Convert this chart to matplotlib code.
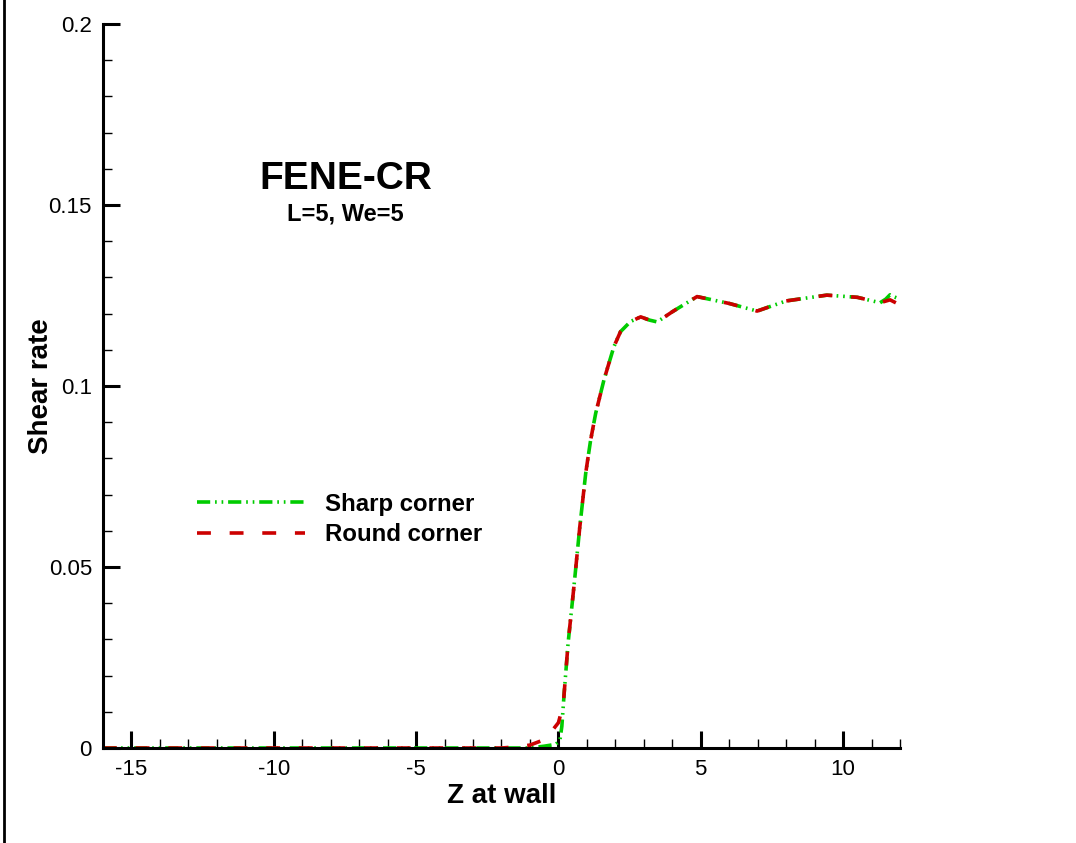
import matplotlib.pyplot as plt
from matplotlib.lines import Line2D
from matplotlib.ticker import MultipleLocator

plt.rcParams['font.family'] = ['Liberation Sans', 'DejaVu Sans']
plt.rcParams['lines.scale_dashes'] = False

# wall shear rate along the channel, sharp vs rounded corner
z_sharp = [-16, -2.0, -1.0, -0.5, -0.1, 0.05, 0.12, 0.2, 0.34, 0.55, 0.75, 0.96,
           1.13, 1.31, 1.6, 1.95, 2.18, 2.53, 2.89, 3.2, 3.47, 4.0, 4.87, 6.0,
           6.98, 8.0, 9.43, 10.5, 11.3, 11.5, 11.65, 11.8, 12.0]
rate_sharp = [0.0, 0.0, 0.0, 0.0005, 0.001, 0.002, 0.006, 0.015, 0.029, 0.045, 0.061, 0.076,
              0.085, 0.0925, 0.1017, 0.1109, 0.115, 0.1178, 0.1191, 0.1182, 0.1177, 0.1205, 0.1247, 0.1228,
              0.1207, 0.1235, 0.1251, 0.1245, 0.1230, 0.1240, 0.1252, 0.1246, 0.1240]

z_round = [-16, -2.0, -1.5, -1.0, -0.6, -0.3, 0.0, 0.17, 0.34, 0.55, 0.75, 0.96,
           1.13, 1.31, 1.6, 1.95, 2.18, 2.53, 2.89, 3.2, 3.47, 4.0, 4.87, 6.0,
           6.98, 8.0, 9.43, 10.5, 11.3, 11.65, 12.0]
rate_round = [0.0, 0.0, 0.0003, 0.0008, 0.002, 0.004, 0.007, 0.012, 0.029, 0.045, 0.061, 0.076,
              0.085, 0.0925, 0.1017, 0.1109, 0.115, 0.1178, 0.1191, 0.1182, 0.1177, 0.1205, 0.1247, 0.1228,
              0.1207, 0.1235, 0.1251, 0.1245, 0.1230, 0.1238, 0.1224]

green = '#00cc00'
red = '#cc0000'
sharp_dash = (9.5, 3.5, 1.2, 3.5, 1.2, 3.5)
round_dash = (10, 13.5)

fig = plt.figure(figsize=(10.76, 8.43), dpi=100)
ax = fig.add_axes([103 / 1076, 1 - 748 / 843, (900 - 103) / 1076, (748 - 24) / 843])

ax.plot(z_sharp, rate_sharp, color=green, lw=2.6, dashes=sharp_dash)
ax.plot(z_round, rate_round, color=red, lw=2.6, dashes=round_dash)

ax.set_xlim(-16, 12)
ax.set_ylim(0, 0.2)
ax.xaxis.set_minor_locator(MultipleLocator(1))
ax.yaxis.set_minor_locator(MultipleLocator(0.01))
ax.set_xticks([-15, -10, -5, 0, 5, 10])
ax.set_xticklabels(['-15', '-10', '-5', '0', '5', '10'])
ax.set_yticks([0, 0.05, 0.1, 0.15, 0.2])
ax.set_yticklabels(['0', '0.05', '0.1', '0.15', '0.2'])

for s in ['top', 'right']:
    ax.spines[s].set_visible(False)
for s in ['left', 'bottom']:
    ax.spines[s].set_linewidth(2.2)
ax.tick_params(which='major', direction='in', length=12, width=2.2, labelsize=16, pad=8)
ax.tick_params(which='minor', direction='in', length=6.5, width=1.0)

ax.set_xlabel('Z at wall', fontsize=20, fontweight='bold', labelpad=2)
ax.set_ylabel('Shear rate', fontsize=20, fontweight='bold')
ax.yaxis.set_label_coords(-0.061, 0.5)

ax.text(0.305, 0.786, 'FENE-CR', transform=ax.transAxes, ha='center', va='center',
        fontsize=28, fontweight='bold')
ax.text(0.304, 0.738, 'L=5, We=5', transform=ax.transAxes, ha='center', va='center',
        fontsize=17, fontweight='bold')

handles = [Line2D([], [], color=green, lw=2.6, dashes=sharp_dash),
           Line2D([], [], color=red, lw=2.6, dashes=round_dash)]
ax.legend(handles, ['Sharp corner', 'Round corner'], loc='upper left',
          bbox_to_anchor=(0.0908, 0.3826), frameon=False, handlelength=4.5,
          handletextpad=0.83, labelspacing=0.31, prop={'size': 17.3, 'weight': 'bold'})

# border line down the left edge of the figure
fig.add_artist(Line2D([4 / 1076, 4 / 1076], [0, 1], color='black', lw=2.0,
                      transform=fig.transFigure))

fig.savefig('out.png', dpi=100)
